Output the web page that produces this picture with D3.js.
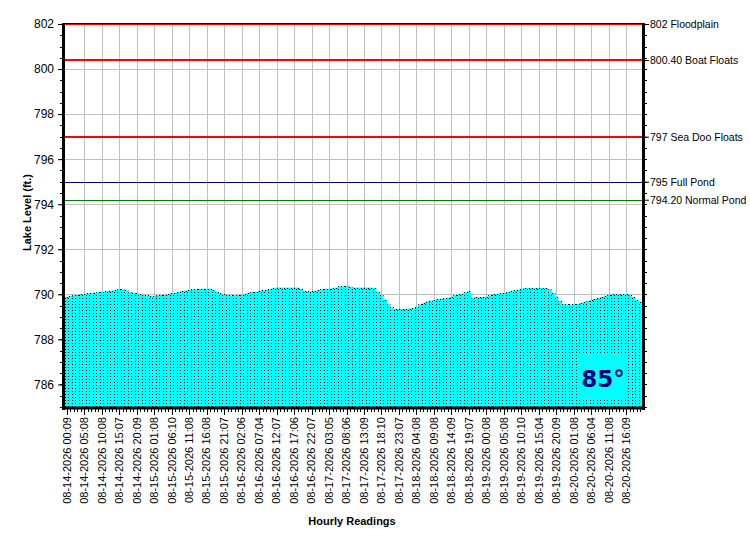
<!DOCTYPE html>
<html lang="en">
<head>
<meta charset="utf-8">
<title>Lake Level</title>
<script src="https://cdnjs.cloudflare.com/ajax/libs/d3/7.8.5/d3.min.js"></script>
<style>
body { margin: 0; background: #fff; }
svg { display: block; font-family: "Liberation Sans", Arial, sans-serif; }
</style>
</head>
<body>
<script>
// tick labels, one every 5 readings
var tickLabels = [
  "08-14-2026 00:09","08-14-2026 05:08","08-14-2026 10:08","08-14-2026 15:07","08-14-2026 20:09",
  "08-15-2026 01:08","08-15-2026 06:10","08-15-2026 11:08","08-15-2026 16:08","08-15-2026 21:07",
  "08-16-2026 02:06","08-16-2026 07:04","08-16-2026 12:07","08-16-2026 17:06","08-16-2026 22:07",
  "08-17-2026 03:05","08-17-2026 08:06","08-17-2026 13:09","08-17-2026 18:10","08-17-2026 23:07",
  "08-18-2026 04:08","08-18-2026 09:08","08-18-2026 14:09","08-18-2026 19:07",
  "08-19-2026 00:08","08-19-2026 05:08","08-19-2026 10:10","08-19-2026 15:04","08-19-2026 20:09",
  "08-20-2026 01:08","08-20-2026 06:04","08-20-2026 11:08","08-20-2026 16:09"
];

// hourly lake level readings (ft.)
var levels = [
  789.88,789.92,789.95,789.97,790.00,790.02,790.05,790.06,790.08,790.10,
  790.12,790.13,790.15,790.17,790.20,790.22,790.22,790.18,790.10,790.08,
  790.05,790.00,789.97,789.95,789.92,789.92,789.95,789.97,789.97,790.00,
  790.05,790.08,790.12,790.15,790.17,790.20,790.22,790.23,790.25,790.25,
  790.25,790.25,790.20,790.12,790.05,790.00,789.98,789.95,789.95,789.97,
  789.97,790.02,790.07,790.10,790.12,790.15,790.18,790.20,790.23,790.27,
  790.30,790.30,790.30,790.30,790.30,790.30,790.30,790.25,790.15,790.13,
  790.13,790.15,790.20,790.23,790.25,790.25,790.27,790.30,790.35,790.36,
  790.36,790.33,790.30,790.30,790.30,790.30,790.30,790.30,790.28,790.10,
  789.96,789.75,789.55,789.42,789.35,789.35,789.35,789.36,789.37,789.38,
  789.45,789.55,789.60,789.68,789.72,789.74,789.78,789.80,789.82,789.85,
  789.90,789.95,790.00,790.03,790.10,790.13,789.85,789.87,789.87,789.88,
  789.90,789.95,790.00,790.02,790.04,790.06,790.10,790.13,790.18,790.21,
  790.25,790.28,790.28,790.28,790.28,790.28,790.28,790.28,790.22,790.05,
  789.90,789.70,789.57,789.55,789.55,789.57,789.58,789.62,789.66,789.70,
  789.75,789.80,789.84,789.88,789.93,789.97,790.00,790.00,790.00,790.00,
  790.00,789.97,789.88,789.75,789.68
];

// reference levels drawn across the chart
var refLevels = [802, 800.4, 797, 795, 794.2];
var refNames = ["802 Floodplain", "800.40 Boat Floats", "797 Sea Doo Floats", "795 Full Pond", "794.20 Normal Pond"];
var refColors = ["#ff0000", "#ff0000", "#ff0000", "#000080", "#008000"];

var temperature = "85\u00b0";

var W = 750, H = 550;
var pLeft = 65, pRight = 642, pTop = 24, pBottom = 407;

var svg = d3.select("body").append("svg")
  .attr("width", W)
  .attr("height", H);

var x = d3.scaleBand()
  .domain(d3.range(levels.length))
  .range([pLeft, pRight])
  .padding(0);

var y = d3.scaleLinear()
  .domain([785, 802])
  .range([pBottom, pTop]);

function py(v){ return Math.round(y(v)) + 0.5; }

// grid
var majorIdx = d3.range(0, levels.length, 5);
svg.append("g").selectAll("line")
  .data(majorIdx.slice(1))
  .enter().append("line")
  .attr("x1", function(d){ return Math.round(x(d) + x.bandwidth()/2) + 0.5; })
  .attr("x2", function(d){ return Math.round(x(d) + x.bandwidth()/2) + 0.5; })
  .attr("y1", pTop).attr("y2", pBottom)
  .attr("stroke", "#c0c0c0");

svg.append("g").selectAll("line")
  .data(d3.range(786, 802, 2))
  .enter().append("line")
  .attr("x1", pLeft).attr("x2", pRight)
  .attr("y1", py).attr("y2", py)
  .attr("stroke", "#c0c0c0");

// bars
var bars = svg.append("g");
bars.selectAll("rect")
  .data(levels)
  .enter().append("rect")
  .attr("x", function(d, i){ return x(i); })
  .attr("y", function(d){ return y(d); })
  .attr("width", x.bandwidth() + 0.3)
  .attr("height", function(d){ return pBottom - y(d); })
  .attr("fill", "#00ffff");

// dotted bar outlines (left edge + top)
bars.selectAll("path")
  .data(levels)
  .enter().append("path")
  .attr("d", function(d, i){
    var x0 = Math.round(x(i)) + 0.5, x1 = Math.round(x(i) + x.bandwidth()) + 0.5, yt = py(d);
    return "M" + x0 + "," + pBottom + "V" + yt + "H" + x1;
  })
  .attr("fill", "none")
  .attr("stroke", "#000")
  .attr("stroke-width", 1)
  .attr("stroke-dasharray", "1,2");

// temperature box
var bx = Math.round(x(147)), by = Math.round(y(787.35));
svg.append("rect")
  .attr("x", bx).attr("y", by)
  .attr("width", 48).attr("height", 44)
  .attr("fill", "#00ffff");
svg.append("text")
  .attr("x", bx + 24).attr("y", by + 33)
  .attr("text-anchor", "middle")
  .attr("font-size", 23)
  .attr("font-weight", "bold")
  .attr("fill", "#000080")
  .attr("font-family", "'DejaVu Sans', Verdana, sans-serif")
  .text(temperature);

// reference lines
svg.append("g").selectAll("line")
  .data(refLevels)
  .enter().append("line")
  .attr("x1", pLeft).attr("x2", pRight)
  .attr("y1", function(d, i){ return i < 3 ? Math.round(y(d)) : py(d); })
  .attr("y2", function(d, i){ return i < 3 ? Math.round(y(d)) : py(d); })
  .attr("stroke", function(d, i){ return refColors[i]; })
  .attr("stroke-width", function(d, i){ return i < 3 ? 2 : 1; });

// left axis
var yAxis = d3.axisLeft(y).tickValues(d3.range(786, 803, 2)).tickSize(5).tickFormat(d3.format("d"));
var gy = svg.append("g").attr("transform", "translate(" + (pLeft - 2) + ",0)").call(yAxis);
gy.select(".domain").remove();
gy.selectAll("text").attr("font-size", 12).attr("font-family", "'Liberation Sans', Arial, sans-serif").attr("dx", -1);
var minor = d3.range(785, 802.01, 0.5);
svg.append("g").selectAll("line")
  .data(minor)
  .enter().append("line")
  .attr("x1", pLeft - 5).attr("x2", pLeft - 2)
  .attr("y1", py).attr("y2", py)
  .attr("stroke", "#000");
svg.append("line")
  .attr("x1", pLeft - 1.5).attr("x2", pLeft - 1.5)
  .attr("y1", pTop - 1).attr("y2", pBottom + 3)
  .attr("stroke", "#000").attr("stroke-width", 3);

// right axis
svg.append("g").selectAll("line")
  .data(minor)
  .enter().append("line")
  .attr("x1", pRight + 2).attr("x2", pRight + 5)
  .attr("y1", py).attr("y2", py)
  .attr("stroke", "#000");
var yRight = d3.axisRight(y).tickValues(refLevels).tickSize(5).tickFormat(function(d, i){ return refNames[i]; });
var gr = svg.append("g").attr("transform", "translate(" + (pRight + 2) + ",0)").call(yRight);
gr.select(".domain").remove();
gr.selectAll("text").attr("font-size", 10.5).attr("font-family", "'Liberation Sans', Arial, sans-serif").attr("x", 6);
svg.append("line")
  .attr("x1", pRight + 1.5).attr("x2", pRight + 1.5)
  .attr("y1", pTop - 1).attr("y2", pBottom + 3)
  .attr("stroke", "#000").attr("stroke-width", 3);

// top border
svg.append("line")
  .attr("x1", pLeft).attr("x2", pRight)
  .attr("y1", pTop - 0.5).attr("y2", pTop - 0.5)
  .attr("stroke", "#000");

// bottom axis
svg.append("g").selectAll("line")
  .data(d3.range(levels.length))
  .enter().append("line")
  .attr("x1", function(d){ return Math.round(x(d) + x.bandwidth()/2) + 0.5; })
  .attr("x2", function(d){ return Math.round(x(d) + x.bandwidth()/2) + 0.5; })
  .attr("y1", pBottom + 2)
  .attr("y2", function(d){ return d % 5 === 0 ? pBottom + 8 : pBottom + 5; })
  .attr("stroke", "#000");
var xAxis = d3.axisBottom(x).tickValues(majorIdx).tickSize(0)
  .tickFormat(function(d){ return tickLabels[d / 5]; });
var gx = svg.append("g").attr("transform", "translate(0," + pBottom + ")").call(xAxis);
gx.select(".domain").remove();
gx.selectAll("text")
  .attr("font-size", 11)
  .attr("font-family", "'Liberation Sans', Arial, sans-serif")
  .attr("text-anchor", "end")
  .attr("transform", "rotate(-90)")
  .attr("x", -10)
  .attr("y", 0)
  .attr("dy", "0.35em");
svg.append("line")
  .attr("x1", pLeft - 3).attr("x2", pRight + 3)
  .attr("y1", pBottom + 1).attr("y2", pBottom + 1)
  .attr("stroke", "#000").attr("stroke-width", 3);

// axis titles
svg.append("text")
  .attr("transform", "translate(31," + ((pTop + pBottom) / 2 - 3) + ") rotate(-90)")
  .attr("text-anchor", "middle")
  .attr("font-size", 11)
  .attr("font-weight", "bold")
  .text("Lake Level (ft.)");
svg.append("text")
  .attr("x", 352).attr("y", 525)
  .attr("text-anchor", "middle")
  .attr("font-size", 11)
  .attr("font-weight", "bold")
  .text("Hourly Readings");
</script>
</body>
</html>
